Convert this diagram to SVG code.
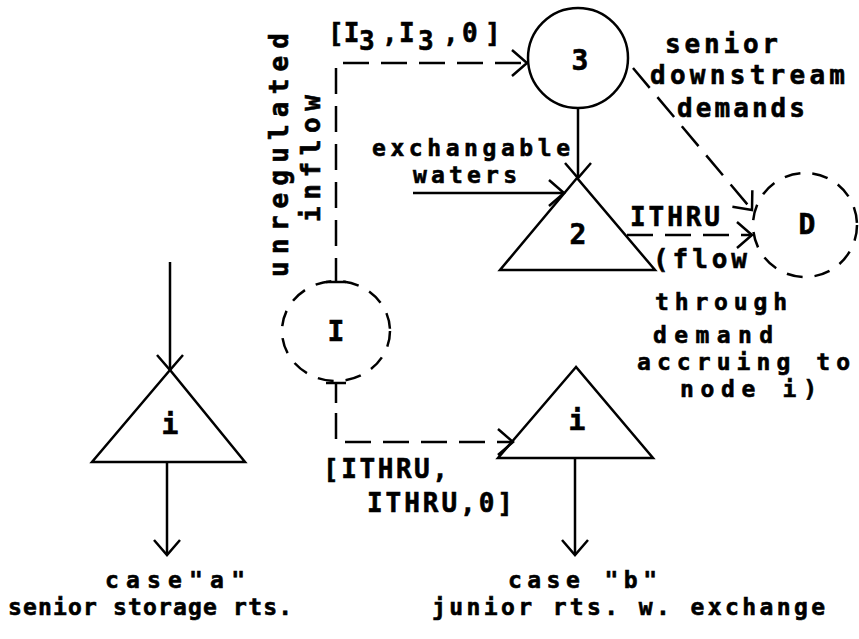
<svg xmlns="http://www.w3.org/2000/svg" width="859" height="639" viewBox="0 0 859 639">
<style>
text{font-family:"DejaVu Sans Mono","Liberation Mono",monospace;font-weight:bold;font-size:23px;fill:#000;stroke:#000;stroke-width:0.6}
.big{font-size:26px}
.sym{font-size:28px;text-anchor:middle}
.ln{fill:none;stroke:#000;stroke-width:2.5}
.dash{fill:none;stroke:#000;stroke-width:2.5;stroke-dasharray:26 12}
.node{fill:none;stroke:#000;stroke-width:2.5}
.dnode{fill:none;stroke:#000;stroke-width:2.5;stroke-dasharray:16 12}
</style>
<defs>
<marker id="ah" markerUnits="userSpaceOnUse" markerWidth="40" markerHeight="40" refX="20" refY="20" orient="auto" viewBox="0 0 40 40">
<path d="M5,7 L20,20 L5,33" fill="none" stroke="#000" stroke-width="2.5"/>
</marker>
</defs>
<rect width="859" height="639" fill="#fff"/>

<g id="node-3"><circle class="node" cx="578" cy="58" r="50"/><text class="sym" x="580" y="70">3</text></g>
<g id="node-2"><polygon class="node" points="577,178 500,270 655,270"/><text class="sym" x="578" y="244">2</text></g>
<g id="node-D"><circle class="dnode" cx="805" cy="225" r="52"/><text class="sym" x="807" y="234">D</text></g>
<g id="node-I"><ellipse class="dnode" cx="336" cy="331" rx="54" ry="50"/><text class="sym" x="336" y="341">I</text></g>
<g id="node-ia"><polygon class="node" points="170,370 92,462 245,462"/><text class="sym" x="170" y="434">i</text></g>
<g id="node-ib"><polygon class="node" points="576,367 498,458 653,458"/><text class="sym" x="577" y="430">i</text></g>

<g id="connectors">
<line class="ln" x1="326" y1="282" x2="346" y2="282"/>
<line class="ln" x1="336" y1="282" x2="336" y2="258"/>
<path class="dash" d="M336,246 L336,63 L527,63" marker-end="url(#ah)"/>
<line class="ln" x1="326" y1="383" x2="346" y2="383"/>
<line class="ln" x1="336" y1="383" x2="336" y2="403"/>
<path class="dash" d="M336,413 L336,442 L513,442" marker-end="url(#ah)"/>
<path class="ln" d="M578,108 L578,178" marker-end="url(#ah)"/>
<path class="ln" d="M413,193 L564,193" marker-end="url(#ah)"/>
<path class="dash" d="M627,235 L752,235" marker-end="url(#ah)"/>
<path class="dash" d="M633,68 L752,210" marker-end="url(#ah)"/>
<path class="ln" d="M170,262 L170,370" marker-end="url(#ah)"/>
<path class="ln" d="M167,462 L167,555" marker-end="url(#ah)"/>
<path class="ln" d="M575,458 L575,555" marker-end="url(#ah)"/>
</g>

<g id="labels">
<text class="big" x="328" y="42">[I<tspan x="359" y="50">3</tspan><tspan x="382" y="42">,</tspan><tspan x="399" y="42">I</tspan><tspan x="418" y="50">3</tspan><tspan x="443" y="42">,</tspan><tspan x="462" y="42">0</tspan><tspan x="485" y="42">]</tspan></text>
<text class="big" x="288" y="277" transform="rotate(-90 288 277)" textLength="244" lengthAdjust="spacing">unregulated</text>
<text class="big" x="320" y="222" transform="rotate(-90 320 222)" textLength="127" lengthAdjust="spacing">inflow</text>
<text x="372" y="156" textLength="198" lengthAdjust="spacing">exchangable</text>
<text x="413" y="183" textLength="104" lengthAdjust="spacing">waters</text>
<text class="big" x="665" y="53" textLength="113" lengthAdjust="spacing">senior</text>
<text class="big" x="650" y="84" textLength="195" lengthAdjust="spacing">downstream</text>
<text class="big" x="677" y="117" textLength="128" lengthAdjust="spacing">demands</text>
<text class="big" x="630" y="226" textLength="90" lengthAdjust="spacing">ITHRU</text>
<text class="big" x="653" y="268" textLength="94" lengthAdjust="spacing">(flow</text>
<text x="655" y="310" textLength="132" lengthAdjust="spacing">through</text>
<text x="653" y="343" textLength="120" lengthAdjust="spacing">demand</text>
<text x="637" y="370" textLength="213" lengthAdjust="spacing">accruing to</text>
<text x="680" y="397" textLength="137" lengthAdjust="spacing">node i)</text>
<text class="big" x="323" y="478" textLength="125" lengthAdjust="spacing">[ITHRU,</text>
<text class="big" x="367" y="512" textLength="146" lengthAdjust="spacing">ITHRU,0]</text>
<text x="105" y="588" textLength="140" lengthAdjust="spacing">case"a"</text>
<text x="8" y="615" textLength="284" lengthAdjust="spacing">senior storage rts.</text>
<text x="508" y="588" textLength="149" lengthAdjust="spacing">case "b"</text>
<text x="432" y="615" textLength="393" lengthAdjust="spacing">junior rts. w. exchange</text>
</g>
</svg>
